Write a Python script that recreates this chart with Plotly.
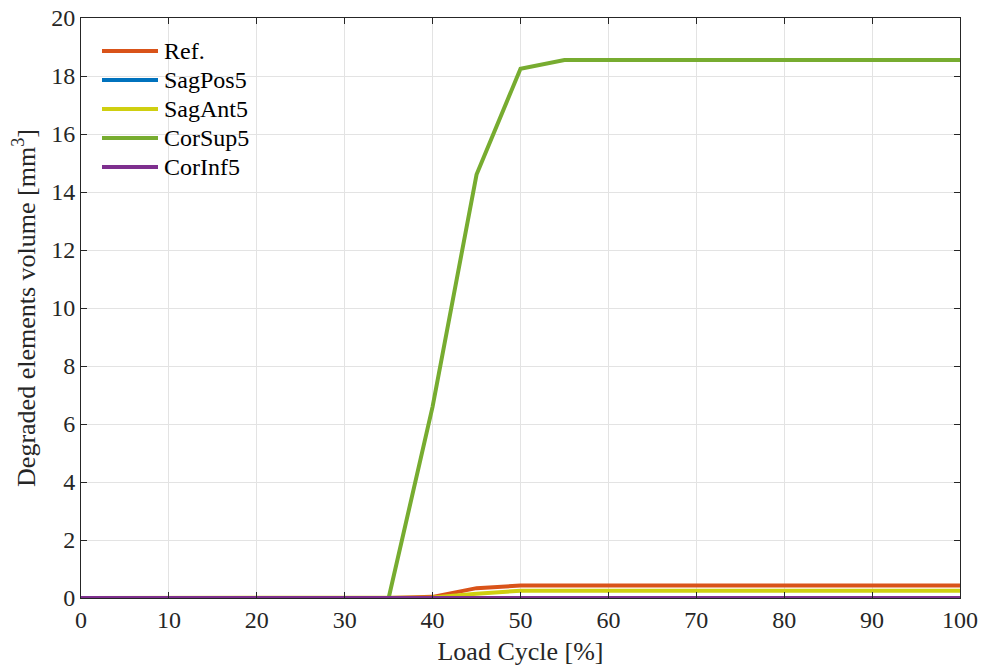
import plotly.graph_objects as go

load_cycle = [0, 5, 10, 15, 20, 25, 30, 35, 40, 45, 50, 55, 60, 65, 70, 75, 80, 85, 90, 95, 100]
ref = [0, 0, 0, 0, 0, 0, 0, 0, 0.04, 0.34, 0.43, 0.43, 0.43, 0.43, 0.43, 0.43, 0.43, 0.43, 0.43, 0.43, 0.43]
sag_pos5 = [0, 0, 0, 0, 0, 0, 0, 0, 0, 0, 0, 0, 0, 0, 0, 0, 0, 0, 0, 0, 0]
sag_ant5 = [0, 0, 0, 0, 0, 0, 0, 0, 0.02, 0.15, 0.25, 0.25, 0.25, 0.25, 0.25, 0.25, 0.25, 0.25, 0.25, 0.25, 0.25]
cor_sup5 = [0, 0, 0, 0, 0, 0, 0, 0, 6.6, 14.6, 18.25, 18.55, 18.55, 18.55, 18.55, 18.55, 18.55, 18.55, 18.55, 18.55, 18.55]
cor_inf5 = [0, 0, 0, 0, 0, 0, 0, 0, 0, 0, 0, 0, 0, 0, 0, 0, 0, 0, 0, 0, 0]

series_names = ["Ref.", "SagPos5", "SagAnt5", "CorSup5", "CorInf5"]
series_values = [ref, sag_pos5, sag_ant5, cor_sup5, cor_inf5]
series_colors = ["#D95319", "#0072BD", "#CFCF10", "#77AC30", "#7E2F8E"]

W, H = 984, 672
ML, MR, MT, MB = 81, 24, 18, 74
PW, PH = W - ML - MR, H - MT - MB

fig = go.Figure()
for name, ys, col in zip(series_names, series_values, series_colors):
    fig.add_trace(go.Scatter(x=load_cycle, y=ys, name=name, mode="lines",
                             line=dict(color=col, width=4), showlegend=False))

serif = "Liberation Serif"
font = dict(family=serif, size=24, color="#262626")
title_font = dict(family=serif, size=26, color="#262626")
axis_common = dict(showgrid=True, gridcolor="#E3E3E3", gridwidth=1,
                   showline=True, linecolor="#262626", linewidth=1, mirror="ticks",
                   ticks="inside", ticklen=6, tickcolor="#262626", zeroline=False,
                   tickfont=font, automargin=False)

# legend (drawn in paper coordinates, top-left inside the axes)
def px_x(p):
    return (p - ML) / PW

def px_y(p):
    return (H - MB - p) / PH

row0, row_gap = 51, 29
for i, (name, col) in enumerate(zip(series_names, series_colors)):
    yy = px_y(row0 + i * row_gap)
    fig.add_shape(type="line", xref="paper", yref="paper",
                  x0=px_x(102), x1=px_x(158), y0=yy, y1=yy,
                  line=dict(color=col, width=4))
    fig.add_annotation(xref="paper", yref="paper", x=px_x(162), y=yy,
                       xanchor="left", yanchor="middle", showarrow=False,
                       text=name, font=dict(family=serif, size=24, color="#000000"))

fig.update_layout(
    width=W, height=H,
    margin=dict(l=ML, r=MR, t=MT, b=MB),
    plot_bgcolor="white", paper_bgcolor="white",
    font=font,
    showlegend=False,
)
fig.update_xaxes(range=[0, 100], dtick=10, **axis_common,
                 title=dict(text="Load Cycle [%]", font=title_font, standoff=10))
fig.update_yaxes(range=[0, 20], dtick=2, **axis_common,
                 title=dict(text="Degraded elements volume [mm<sup>3</sup>]", font=title_font, standoff=8))

fig.write_html("out.html", config={"displayModeBar": False},
               post_script="document.body.style.margin='0';document.body.style.overflow='hidden';")
